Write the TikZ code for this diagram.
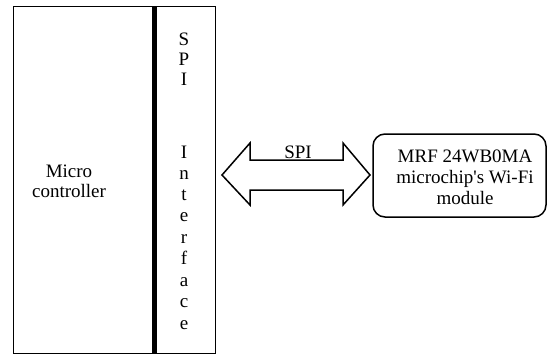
\documentclass[tikz,border=0pt]{standalone}
\usepackage{fontspec}
\setmainfont{Liberation Serif}
\tikzset{
  txt/.style={inner sep=0pt, font=\fontsize{19}{21}\selectfont},
  frame/.style={draw=black, line width=1pt},
  fat/.style={draw=black, line width=1.5pt, line join=miter},
}
\begin{document}
\begin{tikzpicture}[x=1pt,y=-1pt]
\useasboundingbox (0,0) rectangle (552,354);
% microcontroller block with interface
\draw[frame] (13,6) rectangle (215,353);
\draw[line width=5pt] (154.5,6) -- (154.5,353);
\node[txt, align=center, font=\fontsize{19}{20}\selectfont] (mc) at (69,181) {Micro\\controller};
% vertical SPI Interface letters
\foreach \ch/\yy [count=\i] in {S/45, P/65, I/85, I/158, n/179, t/200, e/221, r/243, f/264, a/286, c/307, e/329}
  \node[txt, anchor=base] (l\i) at (184,\yy) {\ch};
% fat double arrow
\coordinate (ta) at (222,175);
\coordinate (tb) at (370,175);
\draw[fat] (ta) -- (250,143) -- (250,160) -- (343,160) -- (343,143) -- (tb)
  -- (343,205) -- (343,190) -- (250,190) -- (250,205) -- cycle;
\node[txt, anchor=base] (spi) at (298,158) {SPI};
% wifi module
\draw[fat, rounded corners=12pt] (373,134) rectangle (546,217);
\node[txt, align=center] (wifi) at (465,177.6) {MRF 24WB0MA\\microchip\textquotesingle s Wi-Fi\\module};
\end{tikzpicture}
\end{document}
